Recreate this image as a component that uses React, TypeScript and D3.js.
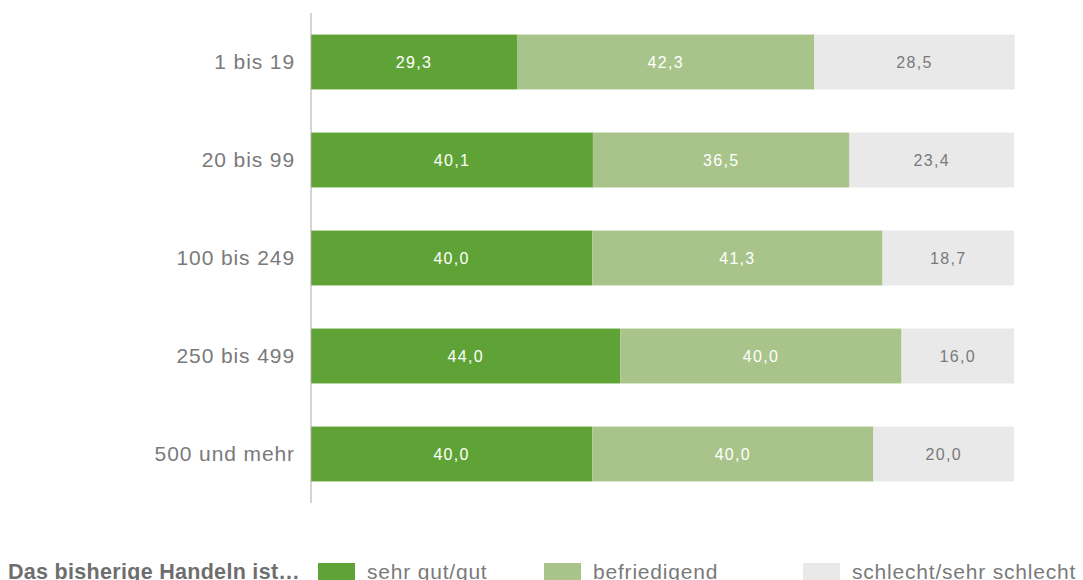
import React from "react";
import * as d3 from "d3";

const categories = ["1 bis 19", "20 bis 99", "100 bis 249", "250 bis 499", "500 und mehr"];
const seriesNames = ["sehr gut/gut", "befriedigend", "schlecht/sehr schlecht"];
const sehrGut = [29.3, 40.1, 40.0, 44.0, 40.0];
const befriedigend = [42.3, 36.5, 41.3, 40.0, 40.0];
const schlecht = [28.5, 23.4, 18.7, 16.0, 20.0];
const legendTitle = "Das bisherige Handeln ist\u2026";

const colors = ["#5fa336", "#a8c48a", "#e9e9e9"];
const textColors = ["#ffffff", "#ffffff", "#7a7a7a"];

export default function App() {
  const W = 1083, H = 580;
  const x0 = 311, x1 = 1014;
  const y = d3.scaleBand<string>().domain(categories).range([13, 503]).paddingInner(0.44).paddingOuter(0.22);
  const x = d3.scaleLinear().domain([0, 100]).range([x0, x1]);
  const rows = categories.map((c, i) => ({ c, vals: [sehrGut[i], befriedigend[i], schlecht[i]] }));
  const stack = d3.stack<any>().keys(["0", "1", "2"]).value((d: any, k: string) => d.vals[+k]);
  const series = stack(rows as any);
  const legendX = [318, 544, 803];
  const font = "'Liberation Sans', Arial, sans-serif";
  return (
    <svg width={W} height={H} style={{ position: "absolute", left: 0, top: 0 }} fontFamily={font}>
      {series.map((s, si) => (
        <g key={si}>
          {s.map((d, i) => {
            const cat = categories[i];
            const xa = x(d[0]), xb = x(d[1]);
            const yy = y(cat)!;
            return (
              <g key={i}>
                <rect x={xa} y={yy} width={xb - xa} height={y.bandwidth()} fill={colors[si]} />
                <text x={(xa + xb) / 2} y={yy + y.bandwidth() / 2} dy="0.35em" textAnchor="middle"
                  fontSize={16} letterSpacing={1.3} fill={textColors[si]}>
                  {(d[1] - d[0]).toFixed(1).replace(".", ",")}
                </text>
              </g>
            );
          })}
        </g>
      ))}
      <line x1={x0} x2={x0} y1={13} y2={503} stroke="#aaaaaa" strokeWidth={1} />
      {categories.map((c) => (
        <text key={c} x={295} y={y(c)! + y.bandwidth() / 2} dy="0.35em" textAnchor="end" fontSize={21} letterSpacing={0.9} fill="#7a7a7a">
          {c}
        </text>
      ))}
      <text x={8} y={579} fontSize={21.5} fontWeight="bold" fill="#6e6e6e" letterSpacing={0.3}>{legendTitle}</text>
      {seriesNames.map((n, i) => (
        <g key={n}>
          <rect x={legendX[i]} y={563} width={37} height={17} fill={colors[i]} />
          <text x={legendX[i] + 49} y={579} fontSize={21} fill="#7a7a7a" letterSpacing={0.8}>{n}</text>
        </g>
      ))}
    </svg>
  );
}
